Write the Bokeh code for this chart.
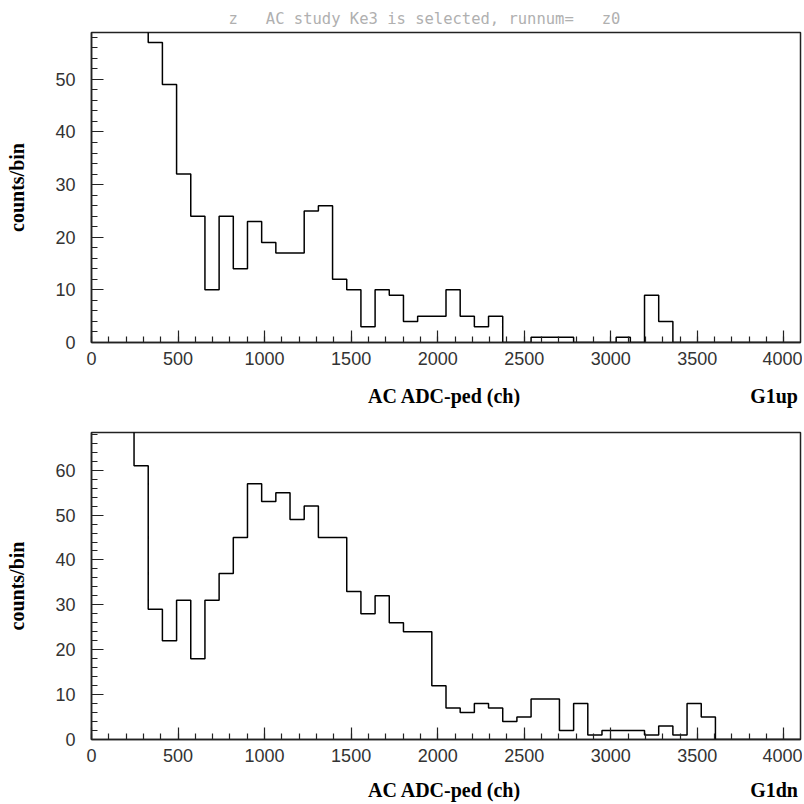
import numpy as np
from bokeh.plotting import figure
from bokeh.layouts import column
from bokeh.models import Range1d
from bokeh.embed import file_html
from bokeh.resources import INLINE

# ---- data ----
nbins = 50
x_max = 4096.0
title_text = "z   AC study Ke3 is selected, runnum=   z0"
x_label = "AC ADC-ped (ch)"
y_label = "counts/bin"
top_name = "G1up"
bot_name = "G1dn"

g1up = [150, 120, 90, 70, 57, 49, 32, 24, 10, 24,
        14, 23, 19, 17, 17, 25, 26, 12, 10, 3,
        10, 9, 4, 5, 5, 10, 5, 3, 5, 0,
        0, 1, 1, 1, 0, 0, 0, 1, 0, 9,
        4, 0, 0, 0, 0, 0, 0, 0, 0, 0]
g1dn = [200, 150, 90, 61, 29, 22, 31, 18, 31, 37,
        45, 57, 53, 55, 49, 52, 45, 45, 33, 28,
        32, 26, 24, 24, 12, 7, 6, 8, 7, 4,
        5, 9, 9, 2, 8, 1, 2, 2, 2, 1,
        3, 1, 8, 5, 0, 0, 0, 0, 0, 0]
top_ymax = 58.9
bot_ymax = 68.4

edges = np.linspace(0, x_max, nbins + 1)

TICK_FONT = "Liberation Sans"
LABEL_FONT = "Liberation Serif"
NBSP = "\u00a0"


def bottom_label(name):
    # axis title centred under the frame, histogram name flush right on the same line
    return NBSP * 55 + x_label + NBSP * 46 + name


def make_panel(vals, ymax, name, height, with_title, border_top, border_bottom,
               xlabel_standoff):
    kw = dict(width=802, height=height, output_backend="svg", toolbar_location=None,
              x_range=Range1d(0, x_max), y_range=Range1d(0, ymax),
              min_border_left=91, min_border_right=2,
              min_border_top=border_top, min_border_bottom=border_bottom)
    if with_title:
        kw["title"] = title_text.replace(" ", NBSP)
    p = figure(**kw)
    if with_title:
        p.title.align = "left"
        p.title.offset = 137
        p.title.text_font = "DejaVu Sans Mono"
        p.title.text_font_style = "normal"
        p.title.text_font_size = "15.5px"
        p.title.text_color = "#b0b0b0"
        p.title.standoff = 10
    p.grid.visible = False
    p.outline_line_color = "#222222"
    p.outline_line_width = 1.5
    p.background_fill_color = "white"
    p.border_fill_color = "white"

    xs = list(edges[:-1]) + [edges[-1]]
    ys = list(vals) + [vals[-1]]
    p.step(xs, ys, mode="after", line_color="black", line_width=1.5)

    for ax in (p.xaxis[0], p.yaxis[0]):
        ax.major_tick_in = 12
        ax.major_tick_out = 0
        ax.minor_tick_in = 6
        ax.minor_tick_out = 0
        ax.axis_line_color = "#222222"
        ax.axis_line_width = 1.5
        ax.major_tick_line_color = "#222222"
        ax.minor_tick_line_color = "#222222"
        ax.major_tick_line_width = 1.2
        ax.minor_tick_line_width = 1.2
        ax.major_label_text_font = TICK_FONT
        ax.major_label_text_font_size = "18px"
        ax.major_label_text_color = "#333333"
        ax.axis_label_text_font = LABEL_FONT
        ax.axis_label_text_font_style = "bold"
        ax.axis_label_text_font_size = "20px"
        ax.axis_label_text_color = "black"
    p.xaxis.ticker.desired_num_ticks = 9
    p.xaxis[0].ticker.num_minor_ticks = 5
    p.yaxis[0].ticker.num_minor_ticks = 5
    p.xaxis.axis_label = bottom_label(name)
    p.yaxis.axis_label = y_label
    p.xaxis.major_label_standoff = 9
    p.yaxis.major_label_standoff = 16
    p.xaxis.axis_label_standoff = xlabel_standoff
    p.yaxis.axis_label_standoff = 24
    return p


p1 = make_panel(g1up, top_ymax, top_name, 410, True, 32, 68, 17)
p2 = make_panel(g1dn, bot_ymax, bot_name, 394, False, 22, 65, 14)
p = column(p1, p2, spacing=0)

open("out.html", "w").write(file_html(p, INLINE))
